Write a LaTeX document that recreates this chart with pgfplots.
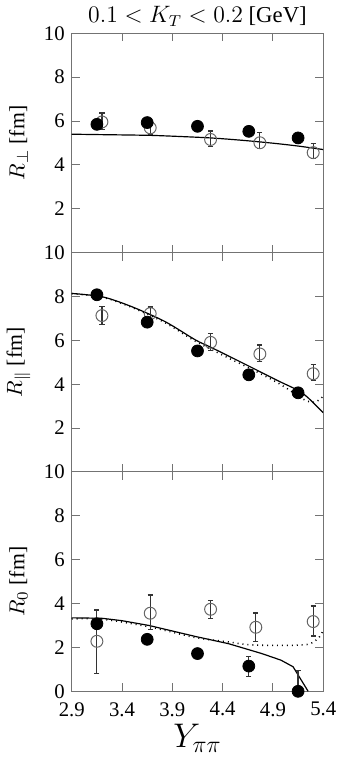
\documentclass[border=0pt]{standalone}
\usepackage{fontspec}
\setmainfont{Liberation Serif}
\usepackage{pgfplots}
\pgfplotsset{compat=1.18}
\pgfplotsset{
  panel/.style={
    scale only axis, width=126.7bp, height=110.5bp,
    xmin=2.9, xmax=5.4, ymin=0, ymax=10,
    xtick={2.9,3.4,3.9,4.4,4.9,5.4},
    tick align=inside, major tick length=4bp,
    axis line style={black!55, line width=0.5pt},
    every tick/.style={black!55, line width=0.5pt},
    tick label style={font=\fontsize{10.5}{11}\selectfont},
    /pgf/number format/assume math mode=true,
    ylabel style={font=\fontsize{11}{12}\selectfont, at={(axis description cs:-0.212,0.5)}, anchor=center},
  },
  full/.style={only marks, mark=*, mark size=3bp, mark options={fill=black, draw=black}},
  open/.style={only marks, mark=o, mark size=3bp, mark options={draw=black!60, line width=0.5pt},
     error bars/.cd, y dir=both, y explicit,
     error bar style={black!80, line width=0.6pt},
     error mark options={rotate=90, mark size=1.3bp, black!80, line width=0.6pt}},
  fullerr/.style={only marks, mark=*, mark size=3bp, mark options={fill=black, draw=black},
     error bars/.cd, y dir=both, y explicit,
     error bar style={black!80, line width=0.6pt},
     error mark options={rotate=90, mark size=1.3bp, black!80, line width=0.6pt}},
  solidc/.style={black, line width=0.6pt, no marks, smooth},
  dotc/.style={black, line width=0.8pt, no marks, smooth, dash pattern=on 0.5pt off 2pt},
}
\begin{document}
\begin{tikzpicture}
% ---------- panel 1 ----------
\begin{axis}[panel, name=p1, ytick={2,4,6,8,10}, xticklabels={},
  ylabel={$R_\perp$ [fm]},
  title={$0.1<K_T<0.2$ [GeV]},
  title style={font=\fontsize{11.5}{13}\selectfont, yshift=-6bp}]
\addplot[solidc] coordinates {(2.9,5.40) (3.2,5.38) (3.65,5.35) (3.9,5.31) (4.28,5.23) (4.6,5.12) (4.9,4.99) (5.15,4.86) (5.4,4.70)};
\addplot[open] coordinates {
 (3.2,5.96) += (0,0.41) -= (0,0.36)
 (3.68,5.69) += (0,0.30) -= (0,0.30)
 (4.28,5.16) += (0,0.39) -= (0,0.33)
 (4.77,5.01) += (0,0.47) -= (0,0.26)
 (5.30,4.56) += (0,0.42) -= (0,0.28)};
\addplot[full] coordinates {(3.15,5.85) (3.65,5.93) (4.15,5.76) (4.66,5.53) (5.15,5.23)};
\end{axis}
% ---------- panel 2 ----------
\begin{axis}[panel, name=p2, at={(p1.south west)}, anchor=north west,
  ytick={2,4,6,8,10}, xticklabels={},
  ylabel={$R_\parallel$ [fm]}]
\addplot[dotc] coordinates {(2.9,8.13) (3.21,7.96) (3.5,7.50) (3.83,6.80) (4.13,5.96) (4.46,5.19) (4.62,4.84) (4.95,4.06) (5.21,3.30) (5.3,3.18) (5.34,3.23) (5.4,3.45)};
\addplot[solidc] coordinates {(2.9,8.14) (3.21,7.98) (3.5,7.53) (3.83,6.85) (4.13,6.02) (4.29,5.67) (4.62,4.92) (4.95,4.16) (5.15,3.72) (5.25,3.38) (5.4,2.70)};
\addplot[open] coordinates {
 (3.2,7.13) += (0,0.40) -= (0,0.39)
 (3.68,7.22) += (0,0.30) -= (0,0.30)
 (4.28,5.91) += (0,0.42) -= (0,0.36)
 (4.77,5.38) += (0,0.41) -= (0,0.34)
 (5.30,4.48) += (0,0.41) -= (0,0.32)};
\addplot[full] coordinates {(3.15,8.08) (3.65,6.83) (4.15,5.52) (4.66,4.43) (5.15,3.61)};
\end{axis}
% ---------- panel 3 ----------
\begin{axis}[panel, name=p3, at={(p2.south west)}, anchor=north west,
  ytick={0,2,4,6,8,10},
  xticklabels={2.9,3.4,3.9,4.4,4.9,5.4},
  xticklabel style={yshift=-2bp},
  ylabel={$R_0$ [fm]},
  xlabel={$Y_{\pi\pi}$},
  xlabel style={font=\fontsize{17}{19}\selectfont, yshift=3bp}]
\addplot[dotc] coordinates {(2.9,3.30) (3.2,3.29) (3.67,2.94) (4.13,2.45) (4.46,2.25) (4.62,2.14) (4.79,2.10) (5.12,2.10) (5.27,2.17) (5.36,2.47) (5.4,2.80)};
\addplot[black, line width=0.6pt, no marks] coordinates {(2.9,3.35) (3.2,3.33) (3.4,3.22) (3.67,3.00) (4.13,2.50) (4.46,2.17) (4.79,1.72) (4.98,1.42) (5.10,1.12) (5.25,0.0)};
\addplot[open] coordinates {
 (3.15,2.28) += (0,1.43) -= (0,1.47)
 (3.68,3.56) += (0,0.83) -= (0,0.76)
 (4.28,3.74) += (0,0.39) -= (0,0.41)
 (4.73,2.92) += (0,0.65) -= (0,0.64)
 (5.30,3.18) += (0,0.71) -= (0,0.66)};
\addplot[fullerr] coordinates {
 (3.15,3.08) += (0,0) -= (0,0)
 (3.65,2.37) += (0,0) -= (0,0)
 (4.15,1.72) += (0,0) -= (0,0)
 (4.66,1.15) += (0,0.45) -= (0,0.46)
 (5.15,0.0) += (0,0.96) -= (0,0)};
\end{axis}
\end{tikzpicture}
\end{document}
